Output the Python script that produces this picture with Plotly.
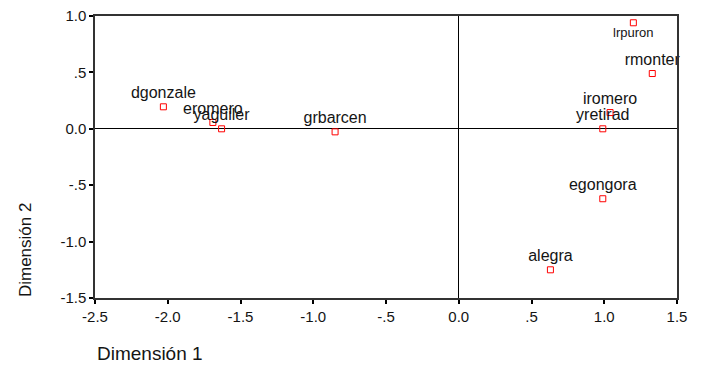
import plotly.graph_objects as go

names = ["dgonzale", "eromero", "yaguiler", "grbarcen", "lrpuron", "rmonter",
         "iromero", "yretirad", "egongora", "alegra"]
dim1 = [-2.03, -1.69, -1.63, -0.85, 1.20, 1.33, 1.04, 0.99, 0.99, 0.63]
dim2 = [0.195, 0.056, 0.0, -0.027, 0.94, 0.49, 0.144, 0.0, -0.62, -1.25]

x_ticks = [-2.5, -2.0, -1.5, -1.0, -0.5, 0.0, 0.5, 1.0, 1.5]
x_tick_labels = ["-2.5", "-2.0", "-1.5", "-1.0", "-.5", "0.0", ".5", "1.0", "1.5"]
y_ticks = [-1.5, -1.0, -0.5, 0.0, 0.5, 1.0]
y_tick_labels = ["-1.5", "-1.0", "-.5", "0.0", ".5", "1.0"]

text_pos = ["top center"] * len(names)
text_pos[names.index("lrpuron")] = "bottom center"
text_size = [16] * len(names)
text_size[names.index("lrpuron")] = 13

font_family = "Liberation Sans, Arial, sans-serif"
text_color = "#141414"

fig = go.Figure()
fig.add_trace(go.Scatter(
    x=dim1, y=dim2, mode="markers+text", text=names,
    textposition=text_pos,
    textfont=dict(family=font_family, size=text_size, color=text_color),
    marker=dict(symbol="square-open", size=6, color="#ff0000", line=dict(width=1)),
    showlegend=False, cliponaxis=False,
))

axis_common = dict(
    showgrid=False, showline=True, linecolor="#333333", linewidth=1.5, mirror=True,
    ticks="outside", ticklen=4, tickwidth=2, tickcolor="#000000",
    zeroline=True, zerolinecolor="#000000", zerolinewidth=1,
    tickfont=dict(family=font_family, size=15, color=text_color),
    automargin=False, ticklabeloverflow="allow",
)

# page body adds an 8px offset, so the figure is shrunk by 8px on each axis
fig.update_layout(
    width=695, height=357,
    margin=dict(l=87, r=26, t=8, b=67),
    paper_bgcolor="white", plot_bgcolor="white",
    xaxis=dict(range=[-2.5, 1.5], tickvals=x_ticks, ticktext=x_tick_labels, **axis_common),
    yaxis=dict(range=[-1.5, 1.0], tickvals=y_ticks, ticktext=y_tick_labels, **axis_common),
    annotations=[
        dict(text="Dimensión 1", xref="paper", yref="paper", x=0, y=0,
             xanchor="left", yanchor="top", yshift=-43, showarrow=False,
             font=dict(family=font_family, size=19, color=text_color)),
        dict(text="Dimensión 2", xref="paper", yref="paper", x=0, y=0.17,
             xanchor="center", yanchor="middle", xshift=-70, textangle=-90, showarrow=False,
             font=dict(family=font_family, size=17, color=text_color)),
    ],
)

fig.write_html("out.html")
